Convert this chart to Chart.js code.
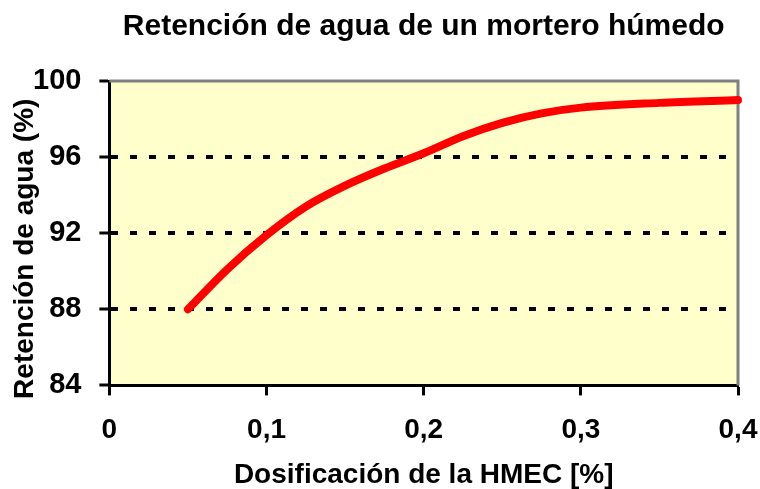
<!DOCTYPE html>
<html>
<head>
<meta charset="utf-8">
<script src="https://cdn.jsdelivr.net/npm/chart.js@4/dist/chart.umd.min.js"></script>
<style>
  html, body { margin: 0; padding: 0; background: #fff; }
  #wrap { width: 760px; height: 489px; }
</style>
</head>
<body>
<div id="wrap"><canvas id="chart" width="760" height="489"></canvas></div>
<script>
// ─── DATOS ──────────────────────────────────────────────────────────────
const dosificacion = [0.05, 0.075, 0.1, 0.125, 0.15, 0.175, 0.2, 0.225, 0.25, 0.275, 0.3, 0.35, 0.4];
const retencion    = [88.0, 90.1, 91.9, 93.4, 94.5, 95.4, 96.2, 97.1, 97.8, 98.3, 98.6, 98.85, 99.0];
const xTicks       = [0, 0.1, 0.2, 0.3, 0.4];
const yTicks       = [84, 88, 92, 96, 100];
const gridLevels   = [88, 92, 96];

const FONT = "'Liberation Sans', Arial, sans-serif";

// Fondo amarillo y marco gris arriba/derecha
const plotFrame = {
  id: 'plotFrame',
  beforeDraw(chart) {
    const { ctx, chartArea: a } = chart;
    ctx.save();
    ctx.fillStyle = '#ffffcc';
    ctx.fillRect(a.left, a.top, a.right - a.left, a.bottom - a.top);
    ctx.restore();
  },
  beforeDatasetsDraw(chart) {
    const { ctx, chartArea: a } = chart;
    ctx.save();
    ctx.strokeStyle = '#808080';
    ctx.lineWidth = 3;
    ctx.beginPath();
    ctx.moveTo(a.left, a.top);
    ctx.lineTo(a.right, a.top);
    ctx.lineTo(a.right, a.bottom);
    ctx.stroke();
    ctx.restore();
  },
};

new Chart(document.getElementById('chart'), {
  type: 'scatter',
  data: {
    datasets: [{
      data: dosificacion.map((x, i) => ({ x, y: retencion[i] })),
      showLine: true,
      borderColor: '#ff0000',
      borderWidth: 8,
      borderCapStyle: 'round',
      borderJoinStyle: 'round',
      cubicInterpolationMode: 'monotone',
      pointRadius: 0,
      clip: false,
    }],
  },
  options: {
    responsive: false,
    animation: false,
    layout: { padding: { left: 10, right: 0, top: 0, bottom: 0 } },
    plugins: {
      legend: { display: false },
      tooltip: { enabled: false },
      title: {
        display: true,
        fullSize: false,
        text: 'Retención de agua de un mortero húmedo',
        color: '#000',
        font: { family: FONT, size: 30, weight: 'bold', lineHeight: 1.2 },
        padding: { top: 9, bottom: 36 },
      },
    },
    scales: {
      x: {
        type: 'linear',
        min: 0,
        max: 0.4,
        afterBuildTicks: s => { s.ticks = xTicks.map(v => ({ value: v })); },
        // el padding de las etiquetas no debe comerse el margen derecho
        afterFit: s => { s.paddingRight = 22; },
        ticks: {
          color: '#000',
          font: { family: FONT, size: 28, weight: 'bold', lineHeight: 1.2 },
          padding: 18,
          maxRotation: 0,
          callback: v => String(v).replace('.', ','),
        },
        grid: {
          drawOnChartArea: false,
          drawTicks: true,
          tickLength: 10,
          tickColor: '#000',
          tickWidth: 3,
        },
        border: { display: true, color: '#000', width: 3 },
        title: {
          display: true,
          text: 'Dosificación de la HMEC [%]',
          color: '#000',
          font: { family: FONT, size: 28, weight: 'bold', lineHeight: 1 },
          padding: { top: -4, bottom: 0 },
        },
      },
      y: {
        type: 'linear',
        min: 84,
        max: 100,
        afterBuildTicks: s => { s.ticks = yTicks.map(v => ({ value: v })); },
        ticks: {
          color: '#000',
          font: { family: FONT, size: 29, weight: 'bold', lineHeight: 1.2 },
          padding: 18,
        },
        grid: {
          color: c => gridLevels.includes(c.tick && c.tick.value) ? '#000' : 'rgba(0,0,0,0)',
          lineWidth: 4,
          drawTicks: true,
          tickLength: 10,
          tickColor: '#000',
          tickWidth: 3,
        },
        border: { display: true, color: '#000', width: 3, dash: [7, 12] },
        title: {
          display: true,
          // espacios finales: bajan el texto girado como en el original
          text: 'Retención de agua (%)    ',
          color: '#000',
          font: { family: FONT, size: 28, weight: 'bold', lineHeight: 1 },
          padding: { top: 1, bottom: -24 },
        },
      },
    },
  },
  plugins: [plotFrame],
});
</script>
</body>
</html>
